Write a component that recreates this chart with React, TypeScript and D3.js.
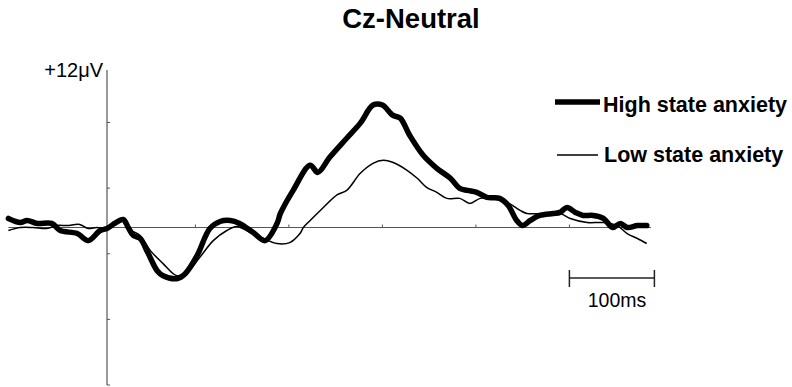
import React from "react";
import * as d3 from "d3";

// time (ms) relative to stimulus onset, amplitude (µV)
const highTime = [-116, -102, -94, -82, -65, -55, -35, -22, -8, 0, 9, 19, 25, 31, 39, 48, 59, 66, 82, 92, 106, 121, 133, 145, 156, 172, 186, 200, 204, 219, 239, 248, 262, 282, 298, 313, 324, 336, 345, 356, 372, 388, 404, 415, 424, 435, 447, 462, 472, 482, 489, 498, 509, 525, 533, 541, 551, 560, 572, 584, 595, 604, 612, 624, 635];
const highValue = [0.69, 0.38, 0.54, 0.31, 0.31, -0.23, -0.46, -1.0, -0.23, -0.08, 0.31, 0.61, 0, -0.61, -0.84, -1.91, -3.29, -3.67, -3.9, -3.52, -2.14, -0.08, 0.46, 0.54, 0.31, -0.38, -1.0, 0.3, 1.07, 2.83, 4.74, 4.2, 5.35, 6.8, 7.95, 9.33, 9.33, 8.56, 8.33, 7.03, 5.5, 4.51, 3.75, 2.98, 2.83, 2.68, 2.29, 2.22, 1.68, 0.54, 0.15, 0.54, 0.92, 1.07, 1.15, 1.53, 1.15, 0.92, 0.92, 0.69, 0, 0.31, 0, 0.15, 0.15];

const lowTime = [-116, -102, -87, -71, -59, -47, -32, -22, -12, 0, 9, 19, 29, 39, 51, 66, 82, 94, 109, 125, 141, 153, 168, 184, 200, 215, 227, 231, 239, 251, 271, 282, 298, 313, 325, 336, 353, 365, 376, 388, 400, 415, 427, 439, 454, 471, 486, 494, 513, 533, 545, 565, 584, 600, 612, 624, 635];
const lowValue = [-0.23, 0, 0, -0.08, 0.15, 0.15, 0.23, -0.08, 0, -0.08, 0.31, 0.54, -0.23, -0.61, -1.76, -2.75, -3.67, -3.44, -2.29, -1.0, -0.23, 0.08, -0.38, -0.84, -1.22, -1.15, -0.46, 0, 0.54, 1.3, 2.5, 2.83, 4.13, 4.89, 5.12, 4.97, 4.36, 3.75, 3.06, 2.68, 2.22, 2.22, 1.83, 2.22, 2.22, 1.91, 1.3, 1.07, 1.07, 1.07, 0.69, 0.38, 0.38, 0.15, -0.46, -0.84, -1.22];

const yTicks = [8, 3, -2, -7];
const xTicks = [104, 214, 324, 434, 544];
const seriesNames = ["High state anxiety", "Low state anxiety"];

const width = 792;
const height = 387;

export default function App() {
  const x = d3.scaleLinear().domain([0, 100]).range([107, 192]);
  const y = d3.scaleLinear().domain([-12, 12]).range([385, 70]);

  const line = d3
    .line<[number, number]>()
    .x((d) => x(d[0]))
    .y((d) => y(d[1]))
    .curve(d3.curveCatmullRom.alpha(0.5));

  const high = highTime.map((t, i) => [t, highValue[i]] as [number, number]);
  const low = lowTime.map((t, i) => [t, lowValue[i]] as [number, number]);

  const axisColor = "#555";
  const font = "'Liberation Sans', Arial, Helvetica, sans-serif";

  return (
    <svg
      width={width}
      height={height}
      style={{ position: "absolute", left: 0, top: 0, background: "#fff" }}
      fontFamily={font}
    >
      <text x={411} y={28} textAnchor="middle" fontSize={27.5} fontWeight="bold">
        Cz-Neutral
      </text>

      {/* y axis */}
      <line x1={x(0)} x2={x(0)} y1={y(12)} y2={y(-12)} stroke={axisColor} strokeWidth={1.2} />
      {yTicks.concat([-12]).map((v) => (
        <line key={v} x1={x(0)} x2={x(0) + 3} y1={y(v)} y2={y(v)} stroke={axisColor} strokeWidth={1} />
      ))}
      <text x={103} y={77} textAnchor="end" fontSize={20}>
        +12μV
      </text>

      {/* zero line */}
      <line x1={x(-116)} x2={x(640)} y1={y(0)} y2={y(0)} stroke={axisColor} strokeWidth={1.2} />
      {xTicks.map((t) => (
        <line key={t} x1={x(t)} x2={x(t)} y1={y(0)} y2={y(0) - 3} stroke={axisColor} strokeWidth={1} />
      ))}

      <path d={line(low) ?? ""} fill="none" stroke="#000" strokeWidth={1.5} strokeLinejoin="round" />
      <path d={line(high) ?? ""} fill="none" stroke="#000" strokeWidth={5.5} strokeLinejoin="round" strokeLinecap="round" />

      {/* legend */}
      <line x1={555} x2={600} y1={102} y2={102} stroke="#000" strokeWidth={5.5} />
      <text x={603} y={112} fontSize={21.5} fontWeight="bold">
        {seriesNames[0]}
      </text>
      <line x1={557} x2={598} y1={155} y2={155} stroke="#000" strokeWidth={1.5} />
      <text x={604} y={162} fontSize={21.5} fontWeight="bold">
        {seriesNames[1]}
      </text>

      {/* 100 ms scale bar */}
      <g stroke="#222" strokeWidth={1.5}>
        <line x1={x(544)} x2={x(644)} y1={278} y2={278} />
        <line x1={x(544)} x2={x(544)} y1={270} y2={287} />
        <line x1={x(644)} x2={x(644)} y1={270} y2={287} />
      </g>
      <text x={617} y={307} textAnchor="middle" fontSize={19.5}>
        100ms
      </text>
    </svg>
  );
}
